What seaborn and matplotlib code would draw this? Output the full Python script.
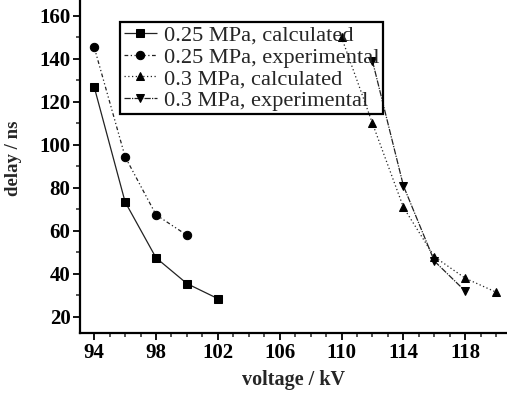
import matplotlib
matplotlib.use("Agg")
import matplotlib.pyplot as plt
from matplotlib.ticker import MultipleLocator
import seaborn as sns
import pandas as pd

# values
v_025 = [94, 96, 98, 100, 102]
calc_025 = [127, 73.5, 47.5, 35.5, 28.5]
v_025_exp = [94, 96, 98, 100]
exp_025 = [145.5, 94.5, 67.5, 58]
v_03 = [110, 112, 114, 116, 118, 120]
calc_03 = [150, 110, 71, 48, 38, 31.5]
v_03_exp = [112, 114, 116, 118]
exp_03 = [139, 81, 46, 32]

labels = ["0.25 MPa, calculated", "0.25 MPa, experimental",
          "0.3 MPa, calculated", "0.3 MPa, experimental"]

sns.set_style("ticks")
plt.rcParams['font.family'] = ['Liberation Serif', 'DejaVu Serif']

fig = plt.figure(figsize=(5.07, 3.94), dpi=100)
ax = fig.add_axes([0.158, 0.155, 0.842, 0.845])

series = [
    (v_025, calc_025, 's', (0, ()), labels[0]),
    (v_025_exp, exp_025, 'o', (0, (3, 2, 1, 2, 1, 2)), labels[1]),
    (v_03, calc_03, '^', (0, (1, 2)), labels[2]),
    (v_03_exp, exp_03, 'v', (0, (5, 1, 1, 1)), labels[3]),
]
for xs, ys, mk, ls, lab in series:
    df = pd.DataFrame({'voltage': xs, 'delay': ys})
    sns.lineplot(data=df, x='voltage', y='delay', ax=ax, color='#222222',
                 marker=mk, markersize=6, markeredgecolor='black',
                 markerfacecolor='black', linewidth=0.9, linestyle=ls,
                 label=lab)

ax.set_xlim(93.09, 120.7)
ax.set_ylim(12.56, 167.4)
ax.set_xticks([94, 98, 102, 106, 110, 114, 118])
ax.set_yticks([20, 40, 60, 80, 100, 120, 140, 160])
ax.xaxis.set_minor_locator(MultipleLocator(1))
ax.yaxis.set_minor_locator(MultipleLocator(10))
ax.tick_params(which='major', direction='out', length=5, width=1.3,
               labelsize=15, colors='black', pad=2)
ax.tick_params(which='minor', direction='out', length=3, width=1.1)
for t in ax.get_xticklabels() + ax.get_yticklabels():
    t.set_fontweight('bold')

sns.despine(ax=ax)
ax.spines['left'].set_linewidth(1.6)
ax.spines['bottom'].set_linewidth(1.6)
ax.spines['left'].set_color('black')
ax.spines['bottom'].set_color('black')

ax.set_xlabel('voltage / kV', fontsize=14.5, fontweight='bold', labelpad=5)
ax.set_ylabel('delay / ns', fontsize=13.5, fontweight='bold')
ax.yaxis.set_label_coords(-0.137, 0.525)

leg = ax.legend(loc='upper left', bbox_to_anchor=(0.094, 0.934), fontsize=16.1,
                frameon=True, fancybox=False, facecolor='none',
                edgecolor='black', handlelength=1.5, handletextpad=0.3,
                borderpad=0.15, labelspacing=0.04, borderaxespad=0)
leg.get_frame().set_linewidth(1.6)
leg.get_frame().set_alpha(None)

fig.savefig('out.png', dpi=100)
